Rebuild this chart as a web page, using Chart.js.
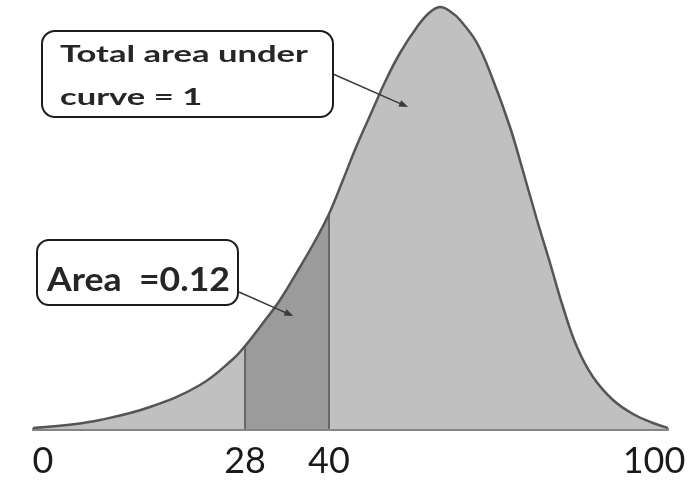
<!DOCTYPE html>
<html>
<head>
<meta charset="utf-8">
<script src="https://cdn.jsdelivr.net/npm/chart.js@4"></script>
<style>
  html, body { margin: 0; padding: 0; background: #fff; }
  canvas { display: block; }
</style>
</head>
<body>
<canvas id="myChart" width="692" height="495"></canvas>
<script>
// Curve: x in axis units, y = height of the curve
const curveX = [-1.39, 3.33, 7.9, 14.83, 21.76, 26.34, 28, 30.57, 33, 35.86, 38, 40,
  42.58, 45.17, 48.12, 50.34, 53.11, 56.25, 58.46, 60.49, 62.52, 64.18, 67.32, 70.28,
  73.41, 75.81, 78.4, 80.8, 83.2, 85.78, 88.74, 92.43, 96.12, 99.81, 102.58];
const curveY = [0.01, 0.04, 0.09, 0.22, 0.44, 0.7, 0.83, 1.06, 1.29, 1.62, 1.88, 2.15,
  2.49, 2.84, 3.2, 3.47, 3.76, 4.02, 4.16, 4.22, 4.17, 4.09, 3.86, 3.49,
  3.02, 2.58, 2.09, 1.66, 1.22, 0.82, 0.52, 0.29, 0.15, 0.06, 0.01];

// Shaded band between these two x values
const bandBounds = [28, 40];

// Labels on the x axis
const tickValues = [0, 28, 40, 100];

// Callout texts
const totalText = ['Total area under', 'curve = 1'];
const bandText = ['Area  =0.12'];

// The axis in the picture is not evenly spaced (0-40 is stretched, 40-100 squeezed),
// so map values piecewise between knots
class KnotScale extends Chart.LinearScale {
  toDecimal(v) {
    const k = this.options.knots, d = this.options.knotDecimals;
    let i = 0;
    while (i < k.length - 2 && v > k[i + 1]) i++;
    return d[i] + (v - k[i]) * (d[i + 1] - d[i]) / (k[i + 1] - k[i]);
  }
  getPixelForValue(v) {
    return this.getPixelForDecimal(this.toDecimal(v));
  }
  getValueForPixel(p) {
    const k = this.options.knots, d = this.options.knotDecimals;
    const dec = this.getDecimalForPixel(p);
    let i = 0;
    while (i < d.length - 2 && dec > d[i + 1]) i++;
    return k[i] + (dec - d[i]) * (k[i + 1] - k[i]) / (d[i + 1] - d[i]);
  }
}
KnotScale.id = 'knot';
KnotScale.defaults = Chart.LinearScale.defaults;
Chart.register(KnotScale);

const curve = curveX.map((x, i) => ({ x: x, y: curveY[i] }));
const bounds = [];
bandBounds.forEach(x => {
  bounds.push({ x: x, y: 0 }, { x: x, y: curveY[curveX.indexOf(x)] }, { x: x, y: null });
});

// the dark band is the same curve, clipped to the band's x range
const bandClip = {
  id: 'bandClip',
  afterDatasetDraw(chart, args) {
    const ctx = chart.ctx, xs = chart.scales.x, a = chart.chartArea;
    if (args.index === 0) {
      const x0 = xs.getPixelForValue(bandBounds[0]);
      const x1 = xs.getPixelForValue(bandBounds[1]);
      ctx.save();
      ctx.beginPath();
      ctx.rect(x0, a.top, x1 - x0, a.bottom - a.top);
      ctx.clip();
    } else if (args.index === 1) {
      ctx.restore();
    }
  }
};

// Callout boxes with arrows pointing into the chart
const callouts = [
  { lines: totalText, tip: [54.6, 3.22], from: [333, 74],
    box: { x: 42, y: 31, w: 291, h: 86, r: 13 }, textX: 60, baselines: [62, 105], fitWidth: 248, size: 23 },
  { lines: bandText, tip: [34.9, 1.13], from: [239, 292],
    box: { x: 37, y: 240, w: 201, h: 65, r: 12 }, textX: 47, baselines: [291], fitWidth: 183, size: 32 }
];

const calloutPlugin = {
  id: 'callouts',
  afterDraw(chart) {
    const ctx = chart.ctx;
    const xs = chart.scales.x, ys = chart.scales.y;
    callouts.forEach(c => {
      ctx.save();
      // arrow
      const tx = xs.getPixelForValue(c.tip[0]);
      const ty = ys.getPixelForValue(c.tip[1]);
      const ang = Math.atan2(ty - c.from[1], tx - c.from[0]);
      ctx.strokeStyle = '#3a3a3a';
      ctx.fillStyle = '#3a3a3a';
      ctx.lineWidth = 1.5;
      ctx.beginPath();
      ctx.moveTo(c.from[0], c.from[1]);
      ctx.lineTo(tx - 6 * Math.cos(ang), ty - 6 * Math.sin(ang));
      ctx.stroke();
      ctx.beginPath();
      ctx.moveTo(tx, ty);
      ctx.lineTo(tx - 9 * Math.cos(ang) + 3.5 * Math.sin(ang), ty - 9 * Math.sin(ang) - 3.5 * Math.cos(ang));
      ctx.lineTo(tx - 9 * Math.cos(ang) - 3.5 * Math.sin(ang), ty - 9 * Math.sin(ang) + 3.5 * Math.cos(ang));
      ctx.closePath();
      ctx.fill();
      // box
      ctx.beginPath();
      ctx.roundRect(c.box.x, c.box.y, c.box.w, c.box.h, c.box.r);
      ctx.fillStyle = '#fff';
      ctx.fill();
      ctx.lineWidth = 2;
      ctx.strokeStyle = '#1c1c1c';
      ctx.stroke();
      // text, stretched to the width it has in the picture
      ctx.font = 'bold ' + c.size + 'px Lato';
      ctx.fillStyle = '#262626';
      ctx.textBaseline = 'alphabetic';
      const sx = c.fitWidth / ctx.measureText(c.lines[0]).width;
      c.lines.forEach((line, i) => {
        ctx.save();
        ctx.translate(c.textX, c.baselines[i]);
        ctx.scale(sx, 1);
        ctx.fillText(line, 0, 0);
        ctx.restore();
      });
      ctx.restore();
    });
  }
};

const chartConfig = {
  type: 'line',
  data: {
    datasets: [
      { data: curve, fill: 'origin', backgroundColor: '#c0c0c0', borderWidth: 0,
        tension: 0.4, pointRadius: 0, order: 3 },
      { data: curve, fill: 'origin', backgroundColor: '#9b9b9b', borderWidth: 0,
        tension: 0.4, pointRadius: 0, order: 2 },
      { data: bounds, fill: false, borderColor: '#666', borderWidth: 2,
        tension: 0, spanGaps: false, pointRadius: 0, order: 1 },
      { data: curve, fill: false, borderColor: '#555', borderWidth: 2.5,
        tension: 0.4, pointRadius: 0, order: 0 }
    ]
  },
  options: {
    responsive: false,
    animation: false,
    layout: { padding: { left: 33, right: 24, top: 0, bottom: 0 } },
    plugins: {
      legend: { display: false },
      tooltip: { enabled: false }
    },
    scales: {
      x: {
        type: 'knot',
        min: -1.39,
        max: 102.58,
        knots: [0, 28, 40, 100],
        knotDecimals: [0.0157, 0.3339, 0.4661, 0.978],
        z: 1,
        afterBuildTicks: s => { s.ticks = tickValues.map(v => ({ value: v })); },
        afterFit: s => { s.height = 66; s.paddingLeft = 0; s.paddingRight = 0; },
        grid: { display: false, drawTicks: false },
        border: { display: true, color: '#858585', width: 3 },
        ticks: {
          autoSkip: false,
          maxRotation: 0,
          padding: 11,
          color: '#1a1a1a',
          font: { family: 'Lato', size: 36 },
          callback: v => String(v)
        }
      },
      y: { display: false, min: 0, max: 4.29 }
    }
  },
  plugins: [bandClip, calloutPlugin]
};

const myChart = new Chart(document.getElementById('myChart'), chartConfig);
</script>
</body>
</html>
